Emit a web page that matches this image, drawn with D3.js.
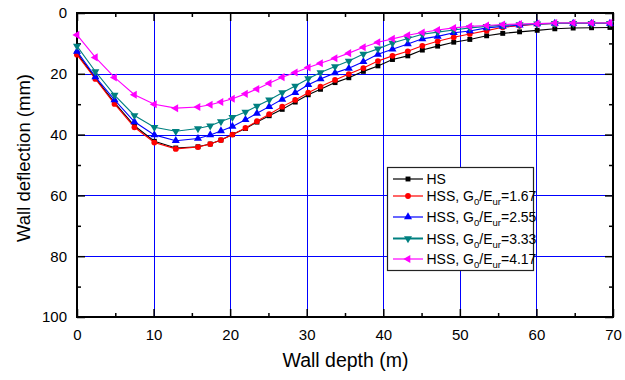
<!DOCTYPE html>
<html><head><meta charset="utf-8">
<script src="https://cdn.jsdelivr.net/npm/d3@7"></script>
<style>body{margin:0;background:#fff}text{font-family:"Liberation Sans",Arial,sans-serif}</style>
</head><body><svg id="c" width="625" height="380"></svg>
<script>
const depth = [0, 2.4, 4.9, 7.5, 10.1, 12.9, 15.8, 17.4, 18.8, 20.3, 22.0, 23.5, 25.1, 26.8, 28.5, 30.2, 31.8, 33.7, 35.5, 37.4, 39.3, 41.2, 43.2, 45.1, 47.1, 49.2, 51.3, 53.5, 55.6, 57.8, 60.1, 62.4, 64.8, 67.2, 69.6];
const hs    = [13.3, 21.4, 29.5, 37.1, 42.2, 44.4, 44.0, 43.1, 41.8, 40.0, 38.0, 35.9, 33.8, 31.7, 29.3, 26.9, 25.1, 22.9, 21.3, 19.2, 17.4, 15.3, 14.1, 12.2, 10.9, 9.6, 8.7, 7.5, 6.7, 6.2, 5.7, 5.2, 4.95, 4.85, 4.75];
const hss167 = [13.7, 21.7, 29.9, 37.6, 42.6, 44.7, 44.1, 43.1, 41.8, 40.0, 37.8, 35.6, 33.3, 30.8, 28.6, 26.2, 24.2, 22.0, 20.1, 18.1, 15.8, 14.1, 12.6, 10.8, 9.3, 8.0, 6.9, 5.8, 4.7, 4.2, 3.7, 3.4, 3.4, 3.4, 3.4];
const hss255 = [12.6, 21.0, 28.6, 35.8, 40.1, 42.0, 41.3, 40.1, 38.8, 37.3, 35.1, 33.0, 30.8, 28.4, 26.2, 23.6, 21.7, 19.7, 18.2, 16.0, 13.6, 11.9, 10.2, 8.5, 7.7, 6.5, 5.9, 4.9, 4.4, 4.0, 3.6, 3.4, 3.4, 3.4, 3.4];
const hss333 = [10.9, 19.25, 27.0, 33.7, 37.6, 38.9, 38.0, 37.1, 35.7, 34.3, 32.6, 30.6, 28.6, 26.2, 24.0, 21.6, 19.6, 17.6, 15.8, 13.5, 11.8, 9.9, 8.4, 7.0, 6.3, 5.6, 4.9, 4.4, 4.0, 3.8, 3.6, 3.4, 3.4, 3.4, 3.4];
const hss417 = [7.2, 14.6, 21.2, 26.9, 30.0, 31.3, 30.9, 30.2, 29.3, 28.2, 26.6, 25.0, 23.1, 21.1, 19.6, 17.9, 16.5, 14.9, 13.2, 11.3, 9.6, 8.5, 7.3, 6.4, 5.6, 4.9, 4.4, 4.1, 3.8, 3.6, 3.5, 3.3, 3.3, 3.3, 3.3];
const seriesNames = ["HS", "HSS, G0/Eur=1.67", "HSS, G0/Eur=2.55", "HSS, G0/Eur=3.33", "HSS, G0/Eur=4.17"];
const seriesRatio = [null, "1.67", "2.55", "3.33", "4.17"];
const xTicks = [0, 10, 20, 30, 40, 50, 60, 70];
const yTicks = [0, 20, 40, 60, 80, 100];

const colors = ["#000000", "#ff0000", "#0000ff", "#008080", "#ff00ff"];
const shapes = [d3.symbolSquare, d3.symbolCircle, d3.symbolTriangle, d3.symbolTriangle, d3.symbolTriangle];
const rot = [0, 0, 0, 180, -90];
const sizes = [24, 26, 28, 28, 28];
const allY = [hs, hss167, hss255, hss333, hss417];

const L = 77, R = 613, T = 13, B = 317;
const svg = d3.select("#c");
const x = d3.scaleLinear().domain([0, 70]).range([L, R]);
const y = d3.scaleLinear().domain([0, 100]).range([T, B]);

// grid
const g = svg.append("g");
g.selectAll(".gx").data(xTicks.slice(1, -1)).join("line")
  .attr("x1", d => Math.round(x(d)) + 0.5).attr("x2", d => Math.round(x(d)) + 0.5)
  .attr("y1", T).attr("y2", B).attr("stroke", "#0000ff").attr("stroke-width", 1);
g.selectAll(".gy").data(yTicks.slice(1, -1)).join("line")
  .attr("y1", d => Math.round(y(d)) + 0.5).attr("y2", d => Math.round(y(d)) + 0.5)
  .attr("x1", L).attr("x2", R).attr("stroke", "#0000ff").attr("stroke-width", 1);

// axes
const xb = d3.axisBottom(x).tickValues(xTicks).tickSize(-8).tickPadding(12).tickFormat(d3.format("d"));
const xbm = d3.axisBottom(x).tickValues(d3.range(5, 70, 10)).tickSize(-4).tickFormat("");
const xt = d3.axisTop(x).tickValues(xTicks).tickSize(-8).tickFormat("");
const xtm = d3.axisTop(x).tickValues(d3.range(5, 70, 10)).tickSize(-4).tickFormat("");
const yl = d3.axisLeft(y).tickValues(yTicks).tickSize(-8).tickPadding(10).tickFormat(d3.format("d"));
const ylm = d3.axisLeft(y).tickValues(d3.range(10, 100, 20)).tickSize(-4).tickFormat("");
const yr = d3.axisRight(y).tickValues(yTicks).tickSize(-8).tickFormat("");
const yrm = d3.axisRight(y).tickValues(d3.range(10, 100, 20)).tickSize(-4).tickFormat("");
function styl(sel) {
  sel.select(".domain").remove();
  sel.selectAll("line").attr("stroke", "#000").attr("stroke-width", 1.5);
  sel.selectAll("text").attr("fill", "#000").style("font-size", "15px").style("font-family", "'Liberation Sans', Arial, sans-serif");
}
svg.append("g").attr("transform", `translate(0,${B})`).call(xb).call(styl);
svg.append("g").attr("transform", `translate(0,${B})`).call(xbm).call(styl);
svg.append("g").attr("transform", `translate(0,${T})`).call(xt).call(styl);
svg.append("g").attr("transform", `translate(0,${T})`).call(xtm).call(styl);
svg.append("g").attr("transform", `translate(${L},0)`).call(yl).call(styl);
svg.append("g").attr("transform", `translate(${L},0)`).call(ylm).call(styl);
svg.append("g").attr("transform", `translate(${R},0)`).call(yr).call(styl);
svg.append("g").attr("transform", `translate(${R},0)`).call(yrm).call(styl);
svg.append("rect").attr("x", L).attr("y", T).attr("width", R - L).attr("height", B - T)
  .attr("fill", "none").attr("stroke", "#000").attr("stroke-width", 2);

// series
const line = d3.line().x((d, i) => x(depth[i])).y(d => y(d));
allY.forEach((vals, k) => {
  const sg = svg.append("g");
  sg.append("path").datum(vals).attr("d", line).attr("fill", "none")
    .attr("stroke", colors[k]).attr("stroke-width", 1.1);
  sg.selectAll("path.m").data(vals).join("path").attr("class", "m")
    .attr("d", d3.symbol().type(shapes[k]).size(sizes[k]))
    .attr("transform", (d, i) => `translate(${x(depth[i])},${y(d)}) rotate(${rot[k]})`)
    .attr("fill", colors[k]);
});

// legend
const lg = svg.append("g");
lg.append("rect").attr("x", 387.5).attr("y", 167.5).attr("width", 146).attr("height", 103)
  .attr("fill", "#fff").attr("stroke", "#222").attr("stroke-width", 1.2);
const ly = [179, 196, 217, 238.5, 259];
seriesNames.forEach((nm, k) => {
  const yy = ly[k];
  lg.append("line").attr("x1", 393).attr("x2", 423).attr("y1", yy).attr("y2", yy)
    .attr("stroke", colors[k]).attr("stroke-width", k === 3 ? 2 : 1.2);
  lg.append("path").attr("d", d3.symbol().type(shapes[k]).size(sizes[k])())
    .attr("transform", `translate(408,${yy}) rotate(${rot[k]})`).attr("fill", colors[k]);
  const t = lg.append("text").attr("x", 426.5).attr("y", yy + 5).style("font-size", "14px").attr("fill", "#000");
  if (seriesRatio[k] === null) { t.text("HS"); }
  else {
    t.append("tspan").text("HSS, G");
    t.append("tspan").attr("dy", 4).style("font-size", "9.5px").text("0");
    t.append("tspan").attr("dy", -4).text("/E");
    t.append("tspan").attr("dy", 4).style("font-size", "9.5px").text("ur");
    t.append("tspan").attr("dy", -4).text("=" + seriesRatio[k]);
  }
});

// titles
svg.append("text").attr("x", 345.5).attr("y", 367).attr("text-anchor", "middle")
  .style("font-size", "19.5px").text("Wall depth (m)");
svg.append("text").attr("transform", `translate(30,158) rotate(-90)`).attr("text-anchor", "middle")
  .style("font-size", "18.5px").text("Wall deflection (mm)");
</script></body></html>
